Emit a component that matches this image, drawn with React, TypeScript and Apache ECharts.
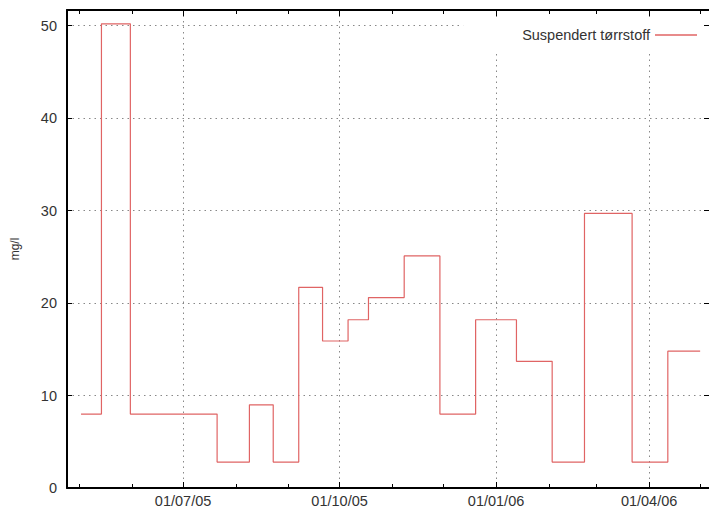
import React, { useEffect, useRef } from "react";
import * as echarts from "echarts";

// Sampling dates (value holds until the next date) and concentrations in mg/l
const sampleDates = [
  "2005-05-02", "2005-05-14", "2005-05-31", "2005-07-21", "2005-08-09",
  "2005-08-23", "2005-09-07", "2005-09-21", "2005-10-06", "2005-10-18",
  "2005-11-08", "2005-11-29", "2005-12-20", "2006-01-13", "2006-02-03",
  "2006-02-22", "2006-03-22", "2006-04-12", "2006-05-01",
];
const suspendedSolids = [
  8.0, 50.2, 8.0, 2.8, 9.0,
  2.8, 21.7, 15.9, 18.2, 20.6,
  25.1, 8.0, 18.2, 13.7, 2.8,
  29.7, 2.8, 14.8, 14.8,
];

// Labelled quarter ticks and unlabelled monthly ticks
const quarterTicks = ["2005-07-01", "2005-10-01", "2006-01-01", "2006-04-01"];
const monthTicks = [
  "2005-05-01", "2005-06-01", "2005-08-01", "2005-09-01", "2005-11-01",
  "2005-12-01", "2006-02-01", "2006-03-01", "2006-05-01",
];

const X_START = "2005-04-23 18:00";
const X_END = "2006-05-06 05:00";
const Y_MAX = 51.7;
const SERIES_NAME = "Suspendert tørrstoff";

const FONT = "'Liberation Sans', Arial, Helvetica, sans-serif";
const LINE_RED = "#e06464";

function toTime(s: string): number {
  const [d, t] = s.split(" ");
  const [y, m, dd] = d.split("-").map(Number);
  const h = t ? Number(t.split(":")[0]) : 0;
  return new Date(y, m - 1, dd, h).getTime();
}

function pad(n: number): string {
  return n < 10 ? "0" + n : String(n);
}

export default function App() {
  const ref = useRef<HTMLDivElement>(null);

  useEffect(() => {
    if (!ref.current) return;
    const chart = echarts.init(ref.current, null, { renderer: "svg" });

    const xMin = toTime(X_START);
    const xMax = toTime(X_END);
    const quarters = quarterTicks.map(toTime);
    const months = monthTicks.map(toTime);
    const data = sampleDates.map((d, i) => [toTime(d), suspendedSolids[i]]);

    const tickLine = { color: "#000", width: 1 };
    const frameLine = { color: "#000", width: 2 };

    // Dates are plotted as millisecond timestamps on a linear axis
    const baseX = {
      type: "value" as const,
      min: xMin,
      max: xMax,
      gridIndex: 0,
      scale: true,
      axisPointer: { show: false },
    };

    chart.setOption({
      animation: false,
      backgroundColor: "#fff",
      grid: {
        left: 67,
        top: 10,
        width: 643,
        bottom: 16,
        show: false,
      },
      legend: {
        data: [SERIES_NAME],
        right: 6,
        top: 20,
        align: "right",
        icon: "rect",
        itemWidth: 42,
        itemHeight: 1.5,
        padding: [7, 6, 7, 59],
        backgroundColor: "#fff",
        textStyle: { fontSize: 14.5, color: "#333", fontFamily: FONT, lineHeight: 16 },
      },
      xAxis: [
        {
          ...baseX,
          position: "bottom",
          axisLine: { show: true, onZero: false, lineStyle: frameLine },
          axisTick: { show: true, inside: true, length: 6, lineStyle: tickLine, customValues: quarters },
          axisLabel: {
            show: true,
            customValues: quarters,
            margin: 5,
            fontSize: 14.5,
            color: "#333",
            fontFamily: FONT,
            formatter: (v: number) => {
              const d = new Date(v);
              return pad(d.getDate()) + "/" + pad(d.getMonth() + 1) + "/" + pad(d.getFullYear() % 100);
            },
          },
          splitLine: { show: true, lineStyle: { color: "#888", width: 1, type: [1.5, 4] } },
        },
        {
          ...baseX,
          position: "bottom",
          axisLine: { show: false, onZero: false },
          axisTick: { show: true, inside: true, length: 4, lineStyle: tickLine, customValues: months },
          axisLabel: { show: false },
          splitLine: { show: false },
        },
        {
          ...baseX,
          position: "top",
          axisLine: { show: true, onZero: false, lineStyle: frameLine },
          axisTick: { show: true, inside: true, length: 6, lineStyle: tickLine, customValues: quarters },
          axisLabel: { show: false },
          splitLine: { show: false },
        },
        {
          ...baseX,
          position: "top",
          axisLine: { show: false, onZero: false },
          axisTick: { show: true, inside: true, length: 4, lineStyle: tickLine, customValues: months },
          axisLabel: { show: false },
          splitLine: { show: false },
        },
      ],
      yAxis: [
        {
          type: "value",
          min: 0,
          max: Y_MAX,
          interval: 10,
          position: "left",
          name: "mg/l",
          nameLocation: "middle",
          nameGap: 46,
          nameRotate: 90,
          nameTextStyle: { fontSize: 12, color: "#333", fontFamily: FONT },
          axisLine: { show: true, onZero: false, lineStyle: frameLine },
          axisTick: { show: true, inside: true, length: 5, lineStyle: tickLine },
          axisLabel: {
            margin: 10,
            fontSize: 14.5,
            color: "#333",
            fontFamily: FONT,
            showMaxLabel: false,
            formatter: (v: number) => (v % 10 === 0 ? String(v) : ""),
          },
          splitLine: { show: true, lineStyle: { color: "#888", width: 1, type: [1.5, 4] } },
        },
        {
          type: "value",
          min: 0,
          max: Y_MAX,
          interval: 10,
          position: "right",
          axisLine: { show: false, onZero: false },
          axisTick: { show: true, inside: true, length: 5, lineStyle: tickLine },
          axisLabel: { show: false },
          splitLine: { show: false },
        },
      ],
      series: [
        {
          name: SERIES_NAME,
          type: "line",
          xAxisIndex: 0,
          yAxisIndex: 0,
          step: "end",
          data,
          symbol: "none",
          showSymbol: false,
          color: LINE_RED,
          lineStyle: { color: LINE_RED, width: 1.2 },
          emphasis: { disabled: true },
        },
      ],
    });

    return () => chart.dispose();
  }, []);

  return (
    <div
      ref={ref}
      style={{ position: "fixed", left: 0, top: 0, width: 709, height: 508 }}
    />
  );
}
